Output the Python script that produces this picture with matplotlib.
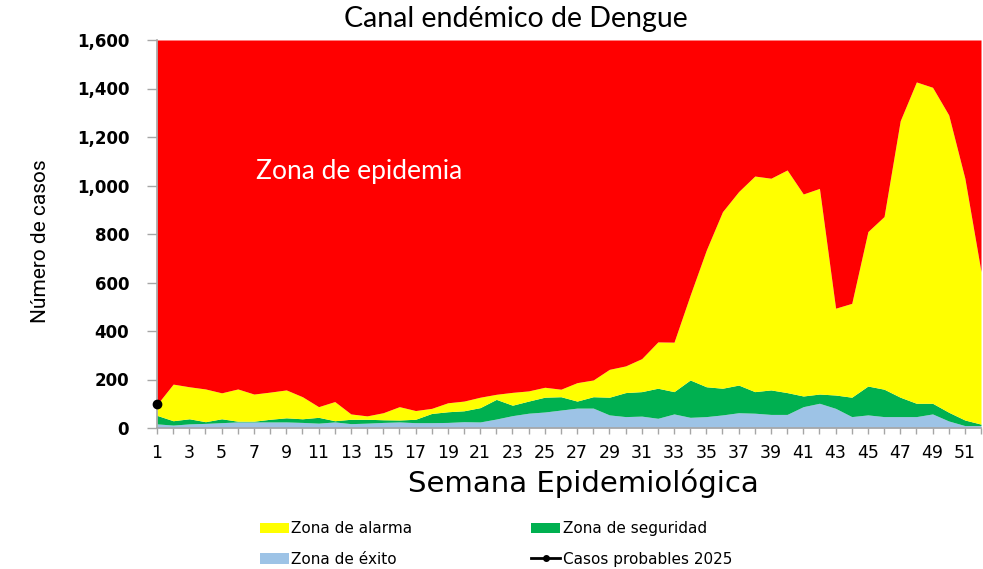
import numpy as np
import matplotlib
matplotlib.use("Agg")
import matplotlib.pyplot as plt
from matplotlib.ticker import FuncFormatter
from matplotlib.patches import Patch
from matplotlib.lines import Line2D

semanas = np.arange(1, 53)

# techo de cada zona (acumulado)
zona_exito = [17, 12, 17, 19, 22, 25, 25, 25, 25, 23, 20, 25, 18, 20, 23, 25, 22, 22, 23, 26,
              25, 37, 51, 61, 66, 74, 82, 82, 54, 47, 49, 40, 58, 44, 47, 54, 63, 61, 56, 56,
              88, 102, 81, 47, 54, 47, 47, 47, 58, 29, 10, 10]
zona_seguridad = [52, 30, 38, 26, 38, 28, 28, 36, 42, 38, 44, 30, 36, 36, 34, 33, 36, 60, 67, 71,
                  84, 118, 94, 111, 127, 129, 111, 129, 127, 146, 150, 164, 150, 198, 170, 164,
                  177, 150, 157, 146, 132, 140, 136, 127, 173, 160, 127, 102, 102, 65, 33, 16]
zona_alarma = [97, 181, 170, 161, 145, 161, 140, 148, 157, 129, 88, 109, 58, 50, 63, 88, 72, 81,
               104, 111, 127, 139, 147, 153, 168, 160, 187, 198, 242, 256, 286, 355, 354, 548,
               734, 892, 975, 1039, 1030, 1064, 965, 988, 494, 514, 810, 872, 1267, 1427, 1405,
               1291, 1030, 645]
techo = 1600

casos_semanas = [1]
casos_2025 = [100]

c_rojo = "#FF0000"
c_amarillo = "#FFFF00"
c_verde = "#00B050"
c_azul = "#9DC3E6"
c_gris = "#A6A6A6"

fig = plt.figure(figsize=(9.83, 5.69), dpi=100)
ax = fig.add_axes([157 / 983, 1 - 428 / 569, 824 / 983, 388 / 569])

ax.fill_between(semanas, 0, zona_exito, color=c_azul, lw=0)
ax.fill_between(semanas, zona_exito, zona_seguridad, color=c_verde, lw=0)
ax.fill_between(semanas, zona_seguridad, zona_alarma, color=c_amarillo, lw=0)
ax.fill_between(semanas, zona_alarma, techo, color=c_rojo, lw=0)
ax.plot(casos_semanas, casos_2025, color="black", marker="o", markersize=6, lw=1.5,
        clip_on=False, zorder=5)

ax.set_xlim(1, 52)
ax.set_ylim(0, techo)
ax.set_yticks(range(0, 1601, 200))
ax.yaxis.set_major_formatter(FuncFormatter(lambda v, p: f"{v:,.0f}"))
ax.set_xticks(semanas)
ax.set_xticklabels([str(s) if s % 2 == 1 else "" for s in semanas])

for s in ["top", "right"]:
    ax.spines[s].set_visible(False)
for s in ["left", "bottom"]:
    ax.spines[s].set_color(c_gris)
    ax.spines[s].set_linewidth(1.2)

ax.tick_params(axis="y", length=7, width=1, color=c_gris, pad=13, labelsize=12)
ax.tick_params(axis="x", length=4.5, width=1, color=c_gris, pad=7, labelsize=12.5)
for lbl in ax.get_yticklabels():
    lbl.set_fontweight("bold")

ax.set_xlabel("Semana Epidemiológica", fontsize=21)
ax.xaxis.set_label_coords(0.518, -0.104)
ax.set_ylabel("Número de casos", fontsize=15, family=["Roboto", "DejaVu Sans"])
ax.yaxis.set_label_coords(-0.130, 0.482)
fig.text(0.5245, 0.966, "Canal endémico de Dengue", ha="center", va="center",
         fontsize=20.5, family=["Lato", "DejaVu Sans"])
fig.text(256 / 983, 1 - 172 / 569, "Zona de epidemia", ha="left", va="center",
         fontsize=19, color="white", family=["Lato", "DejaVu Sans"])

handles = [
    Patch(facecolor=c_amarillo, label="Zona de alarma"),
    Patch(facecolor=c_azul, label="Zona de éxito"),
    Patch(facecolor=c_verde, label="Zona de seguridad"),
    Line2D([0], [0], color="black", marker="o", markersize=4, lw=2, label="Casos probables 2025"),
]
fig.legend(handles=handles, ncol=2, loc="center", bbox_to_anchor=(496 / 983, 1 - 544 / 569),
           frameon=False, fontsize=11, handlelength=1.9, handleheight=0.7, handletextpad=0.15,
           columnspacing=7.8, labelspacing=1.0, borderpad=0)

fig.savefig("out.png", dpi=100)
